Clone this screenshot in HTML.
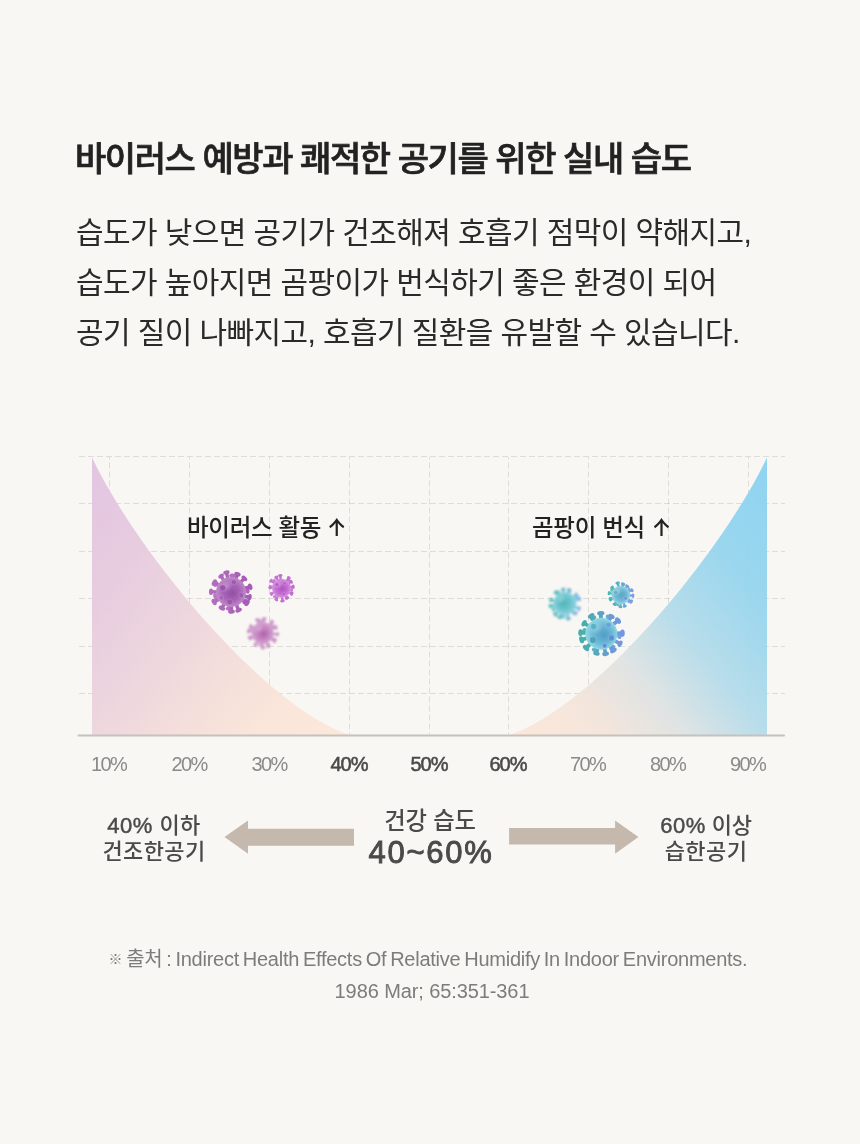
<!DOCTYPE html>
<html lang="ko">
<head>
<meta charset="utf-8">
<title>실내 습도</title>
<style>
html,body{margin:0;padding:0;}
body{width:860px;height:1144px;background:#f9f7f3;position:relative;overflow:hidden;
  font-family:"Liberation Sans","Noto Sans CJK KR",sans-serif;color:#222;}
.abs{position:absolute;white-space:nowrap;}
.kr{font-family:"Liberation Sans","Noto Sans CJK KR",sans-serif;}
#title{left:75px;top:135px;font-size:34px;font-weight:500;-webkit-text-stroke:0.7px #222;letter-spacing:-1.42px;line-height:48px;color:#222;}
#para{left:76px;top:208px;font-size:30px;font-weight:400;line-height:50px;letter-spacing:-0.6px;color:#2a2a2a;}
#chart{position:absolute;left:0;top:0;}
.cl{top:512px;font-size:23.5px;font-weight:500;line-height:32px;color:#222;letter-spacing:-0.3px;}
.ar{font-family:"Noto Sans CJK KR",sans-serif;position:absolute;top:3.7px;width:18px;height:20.3px;overflow:hidden;font-size:32.5px;line-height:32.5px;font-weight:400;letter-spacing:0;text-indent:-7.4px;text-align:left;}
.dg{-webkit-text-stroke:0.45px #4a4a4a;letter-spacing:0.5px;}
.ax{top:752px;width:80px;text-align:center;font-size:20px;line-height:24px;color:#8a8a8a;letter-spacing:-1.6px;}
.ax.b{font-weight:400;-webkit-text-stroke:0.55px #4a4a4a;color:#4a4a4a;letter-spacing:-1px;}
.side{width:160px;text-align:center;font-size:22px;line-height:26px;font-weight:500;color:#4a4a4a;letter-spacing:0.4px;top:812.6px;}
#mid1{left:350px;width:160px;text-align:center;top:806px;font-size:23.3px;line-height:30px;font-weight:500;color:#4a4a4a;letter-spacing:-0.1px;}
#mid2{left:331px;width:200px;text-align:center;top:834px;font-size:31px;line-height:38px;font-weight:400;-webkit-text-stroke:0.9px #4a4a4a;color:#4a4a4a;letter-spacing:1.7px;}
.nt{font-size:14px;font-weight:700;position:relative;top:-2px;font-family:"Liberation Sans","Noto Sans CJK KR",sans-serif;}
.ft{left:0;width:860px;text-align:center;font-size:20px;line-height:24px;color:#7c7c7c;letter-spacing:-0.9px;}
</style>
</head>
<body>
<div id="title" class="abs kr">바이러스 예방과 쾌적한 공기를 위한 실내 습도</div>
<div id="para" class="abs kr">습도가 낮으면 공기가 건조해져 호흡기 점막이 약해지고,<br>습도가 높아지면 곰팡이가 번식하기 좋은 환경이 되어<br>공기 질이 나빠지고, 호흡기 질환을 유발할 수 있습니다.</div>
<svg id="chart" width="860" height="1144" viewBox="0 0 860 1144">
  <defs>
    <linearGradient id="gl" gradientUnits="userSpaceOnUse" x1="349.6" y1="735" x2="59" y2="499.8">
      <stop offset="0" stop-color="#fde8d8"/>
      <stop offset="0.2" stop-color="#fae4d8"/>
      <stop offset="0.37" stop-color="#f4dcd9"/>
      <stop offset="0.535" stop-color="#edd4dc"/>
      <stop offset="0.75" stop-color="#e6c9de"/>
      <stop offset="1" stop-color="#e1c1df"/>
    </linearGradient>
    <linearGradient id="gr" gradientUnits="userSpaceOnUse" x1="509.6" y1="735" x2="800.2" y2="499.8">
      <stop offset="0" stop-color="#fde6d7"/>
      <stop offset="0.2" stop-color="#f4e4da"/>
      <stop offset="0.37" stop-color="#dde2e2"/>
      <stop offset="0.535" stop-color="#b3dbea"/>
      <stop offset="0.75" stop-color="#93d4ee"/>
      <stop offset="1" stop-color="#87d1f1"/>
    </linearGradient>
<radialGradient id="hl"><stop offset="0" stop-color="#fff" stop-opacity="0.28"/><stop offset="1" stop-color="#fff" stop-opacity="0"/></radialGradient>
<radialGradient id="bodyp1" cx="0.5" cy="0.5" r="0.5" fx="0.55" fy="0.55">
<stop offset="0" stop-color="#9550a6"/>
<stop offset="0.55" stop-color="#a763b6"/>
<stop offset="1" stop-color="#c08acb"/>
</radialGradient>
<radialGradient id="bodyp2" cx="0.5" cy="0.5" r="0.5" fx="0.55" fy="0.55">
<stop offset="0" stop-color="#b254c2"/>
<stop offset="0.6" stop-color="#c46ed2"/>
<stop offset="1" stop-color="#d595de"/>
</radialGradient>
<radialGradient id="bodyp3" cx="0.5" cy="0.5" r="0.5" fx="0.55" fy="0.55">
<stop offset="0" stop-color="#b062aa"/>
<stop offset="0.6" stop-color="#c688c2"/>
<stop offset="1" stop-color="#d3a5d1"/>
</radialGradient>
<filter id="blurp3" x="-30%" y="-30%" width="160%" height="160%"><feGaussianBlur stdDeviation="0.9"/></filter>
<radialGradient id="bodyt1" cx="0.5" cy="0.5" r="0.5" fx="0.4" fy="0.45">
<stop offset="0" stop-color="#4db4b6"/>
<stop offset="0.6" stop-color="#6cc4cd"/>
<stop offset="1" stop-color="#92d5e2"/>
</radialGradient>
<filter id="blurt1" x="-30%" y="-30%" width="160%" height="160%"><feGaussianBlur stdDeviation="0.9"/></filter>
<radialGradient id="bodyt2" cx="0.5" cy="0.5" r="0.5" fx="0.55" fy="0.5">
<stop offset="0" stop-color="#5aa4c6"/>
<stop offset="0.6" stop-color="#70bad6"/>
<stop offset="1" stop-color="#98d6e4"/>
</radialGradient>
<radialGradient id="bodyt3" cx="0.5" cy="0.5" r="0.55" fx="0.6" fy="0.55">
<stop offset="0" stop-color="#509ec6"/>
<stop offset="0.55" stop-color="#6cb8d6"/>
<stop offset="1" stop-color="#9ce0e6"/>
</radialGradient>
  </defs>
  <g stroke="#8a8680" stroke-opacity="0.23" stroke-width="1" stroke-dasharray="6 3" fill="none">
    <path d="M79 456.5H785M79 503.5H785M79 551.5H785M79 598.5H785M79 646.5H785M79 693.5H785"/>
    <path stroke-dashoffset="3.5" d="M109.5 457V734.5M189.5 457V734.5M269.5 457V734.5M349.5 457V734.5M429.5 457V734.5M508.5 457V734.5M588.5 457V734.5M668.5 457V734.5M748.5 457V734.5"/>
  </g>
  <path d="M92 457.6 C136.6 551.3 263.2 705.8 349.2 734.7 L349.2 735.5 L92 735.5Z" fill="url(#gl)" fill-opacity="0.93"/>
  <path d="M767 457.6 C722.6 551.3 596 705.8 510 734.7 L510 735.5 L767 735.5Z" fill="url(#gr)" fill-opacity="0.93"/>
<g>
<g transform="translate(231 592) rotate(34.0)" fill="#ae6abb"><rect x="12.0" y="-1.64" width="4.8" height="3.28"/><ellipse cx="16.8" cy="0" rx="1.97" ry="3.11"/></g>
<g transform="translate(231 592) rotate(97.7)" fill="#b471c0"><rect x="12.0" y="-1.64" width="4.9" height="3.28"/><ellipse cx="16.9" cy="0" rx="1.97" ry="3.11"/></g>
<g transform="translate(231 592) rotate(165.1)" fill="#b878c5"><rect x="12.0" y="-1.64" width="4.3" height="3.28"/><ellipse cx="16.3" cy="0" rx="1.97" ry="3.11"/></g>
<g transform="translate(231 592) rotate(207.5)" fill="#b777c4"><rect x="12.0" y="-1.64" width="5.2" height="3.28"/><ellipse cx="17.2" cy="0" rx="1.97" ry="3.11"/></g>
<g transform="translate(231 592) rotate(274.6)" fill="#b36fc0"><rect x="12.0" y="-1.64" width="4.5" height="3.28"/><ellipse cx="16.5" cy="0" rx="1.97" ry="3.11"/></g>
<g transform="translate(231 592) rotate(355.7)" fill="#ad69ba"><rect x="12.0" y="-1.64" width="4.7" height="3.28"/><ellipse cx="16.7" cy="0" rx="1.97" ry="3.11"/></g>
<g transform="translate(231 592) rotate(16.1)" fill="#a65cb4"><rect x="12.0" y="-1.76" width="7.2" height="3.53"/><ellipse cx="19.2" cy="0" rx="2.12" ry="3.35"/></g>
<g transform="translate(231 592) rotate(34.3)" fill="#a75db5"><rect x="12.0" y="-1.83" width="7.4" height="3.65"/><ellipse cx="19.4" cy="0" rx="2.19" ry="3.47"/></g>
<g transform="translate(231 592) rotate(67.2)" fill="#aa61b8"><rect x="12.0" y="-1.77" width="7.7" height="3.54"/><ellipse cx="19.7" cy="0" rx="2.13" ry="3.37"/></g>
<g transform="translate(231 592) rotate(88.5)" fill="#ac64ba"><rect x="12.0" y="-1.75" width="7.7" height="3.50"/><ellipse cx="19.7" cy="0" rx="2.10" ry="3.33"/></g>
<g transform="translate(231 592) rotate(119.5)" fill="#af68bd"><rect x="12.0" y="-1.83" width="6.5" height="3.65"/><ellipse cx="18.5" cy="0" rx="2.19" ry="3.47"/></g>
<g transform="translate(231 592) rotate(149.5)" fill="#b16bbf"><rect x="12.0" y="-1.83" width="7.6" height="3.66"/><ellipse cx="19.6" cy="0" rx="2.20" ry="3.48"/></g>
<g transform="translate(231 592) rotate(180.6)" fill="#b26cc0"><rect x="12.0" y="-1.70" width="8.0" height="3.39"/><ellipse cx="20.0" cy="0" rx="2.04" ry="3.22"/></g>
<g transform="translate(231 592) rotate(209.4)" fill="#b16bbf"><rect x="12.0" y="-1.85" width="7.1" height="3.69"/><ellipse cx="19.1" cy="0" rx="2.21" ry="3.51"/></g>
<g transform="translate(231 592) rotate(238.2)" fill="#af68bd"><rect x="12.0" y="-1.62" width="6.8" height="3.25"/><ellipse cx="18.8" cy="0" rx="1.95" ry="3.09"/></g>
<g transform="translate(231 592) rotate(256.8)" fill="#ad66bb"><rect x="12.0" y="-1.71" width="8.1" height="3.41"/><ellipse cx="20.1" cy="0" rx="2.05" ry="3.24"/></g>
<g transform="translate(231 592) rotate(290.1)" fill="#aa61b8"><rect x="12.0" y="-1.73" width="7.0" height="3.45"/><ellipse cx="19.0" cy="0" rx="2.07" ry="3.28"/></g>
<g transform="translate(231 592) rotate(314.5)" fill="#a85eb6"><rect x="12.0" y="-1.75" width="7.1" height="3.50"/><ellipse cx="19.1" cy="0" rx="2.10" ry="3.32"/></g>
<g transform="translate(231 592) rotate(344.9)" fill="#a65cb4"><rect x="12.0" y="-1.78" width="7.9" height="3.55"/><ellipse cx="19.9" cy="0" rx="2.13" ry="3.37"/></g>
<circle cx="231" cy="592" r="15" fill="url(#bodyp1)"/>
<ellipse cx="226.2" cy="586.3" rx="7.5" ry="5.7" fill="url(#hl)" transform="rotate(-35 226.2 586.3)"/>
<circle cx="222.7" cy="587.9" r="3.0" fill="#9a55aa" stroke="#ffffff" stroke-opacity="0.18" stroke-width="0.8"/>
<circle cx="233.9" cy="582.2" r="2.6" fill="#9f5cae" stroke="#ffffff" stroke-opacity="0.18" stroke-width="0.8"/>
<circle cx="229.7" cy="601.8" r="2.9" fill="#9d58ac" stroke="#ffffff" stroke-opacity="0.18" stroke-width="0.8"/>
<circle cx="241.0" cy="595.1" r="2.6" fill="#a05cb0" stroke="#ffffff" stroke-opacity="0.18" stroke-width="0.8"/>
<circle cx="221.4" cy="597.8" r="2.2" fill="#a463b3" stroke="#ffffff" stroke-opacity="0.18" stroke-width="0.8"/>
</g>
<g>
<g transform="translate(281.5 588.2) rotate(62.2)" fill="#c979d5"><rect x="7.6" y="-1.09" width="3.3" height="2.18"/><ellipse cx="10.9" cy="0" rx="1.31" ry="2.08"/></g>
<g transform="translate(281.5 588.2) rotate(127.1)" fill="#cb7dd7"><rect x="7.6" y="-1.09" width="3.5" height="2.18"/><ellipse cx="11.1" cy="0" rx="1.31" ry="2.08"/></g>
<g transform="translate(281.5 588.2) rotate(185.5)" fill="#cc7fd7"><rect x="7.6" y="-1.09" width="3.4" height="2.18"/><ellipse cx="11.0" cy="0" rx="1.31" ry="2.08"/></g>
<g transform="translate(281.5 588.2) rotate(225.2)" fill="#cb7ed7"><rect x="7.6" y="-1.09" width="3.1" height="2.18"/><ellipse cx="10.7" cy="0" rx="1.31" ry="2.08"/></g>
<g transform="translate(281.5 588.2) rotate(311.3)" fill="#c878d5"><rect x="7.6" y="-1.09" width="3.2" height="2.18"/><ellipse cx="10.8" cy="0" rx="1.31" ry="2.08"/></g>
<g transform="translate(281.5 588.2) rotate(370.1)" fill="#c776d4"><rect x="7.6" y="-1.09" width="2.8" height="2.18"/><ellipse cx="10.4" cy="0" rx="1.31" ry="2.08"/></g>
<g transform="translate(281.5 588.2) rotate(28.2)" fill="#c26bd0"><rect x="7.6" y="-1.16" width="4.2" height="2.32"/><ellipse cx="11.8" cy="0" rx="1.39" ry="2.20"/></g>
<g transform="translate(281.5 588.2) rotate(59.7)" fill="#c36cd1"><rect x="7.6" y="-1.10" width="3.9" height="2.20"/><ellipse cx="11.5" cy="0" rx="1.32" ry="2.09"/></g>
<g transform="translate(281.5 588.2) rotate(85.6)" fill="#c56fd2"><rect x="7.6" y="-1.20" width="5.2" height="2.40"/><ellipse cx="12.8" cy="0" rx="1.44" ry="2.28"/></g>
<g transform="translate(281.5 588.2) rotate(114.0)" fill="#c671d3"><rect x="7.6" y="-1.08" width="5.2" height="2.17"/><ellipse cx="12.8" cy="0" rx="1.30" ry="2.06"/></g>
<g transform="translate(281.5 588.2) rotate(150.3)" fill="#c873d4"><rect x="7.6" y="-1.06" width="4.1" height="2.12"/><ellipse cx="11.7" cy="0" rx="1.27" ry="2.01"/></g>
<g transform="translate(281.5 588.2) rotate(183.8)" fill="#c874d4"><rect x="7.6" y="-1.10" width="4.2" height="2.20"/><ellipse cx="11.8" cy="0" rx="1.32" ry="2.09"/></g>
<g transform="translate(281.5 588.2) rotate(215.3)" fill="#c773d4"><rect x="7.6" y="-1.11" width="5.3" height="2.22"/><ellipse cx="12.9" cy="0" rx="1.33" ry="2.11"/></g>
<g transform="translate(281.5 588.2) rotate(245.0)" fill="#c671d3"><rect x="7.6" y="-1.18" width="4.6" height="2.37"/><ellipse cx="12.2" cy="0" rx="1.42" ry="2.25"/></g>
<g transform="translate(281.5 588.2) rotate(264.6)" fill="#c56fd2"><rect x="7.6" y="-1.19" width="5.3" height="2.37"/><ellipse cx="12.9" cy="0" rx="1.42" ry="2.25"/></g>
<g transform="translate(281.5 588.2) rotate(305.1)" fill="#c36cd1"><rect x="7.6" y="-1.11" width="5.3" height="2.23"/><ellipse cx="12.9" cy="0" rx="1.34" ry="2.11"/></g>
<g transform="translate(281.5 588.2) rotate(326.7)" fill="#c26bd0"><rect x="7.6" y="-1.08" width="4.2" height="2.17"/><ellipse cx="11.8" cy="0" rx="1.30" ry="2.06"/></g>
<g transform="translate(281.5 588.2) rotate(352.7)" fill="#c26ad0"><rect x="7.6" y="-1.17" width="4.3" height="2.34"/><ellipse cx="11.9" cy="0" rx="1.40" ry="2.22"/></g>
<circle cx="281.5" cy="588.2" r="9.5" fill="url(#bodyp2)"/>
<ellipse cx="278.5" cy="584.6" rx="4.8" ry="3.6" fill="url(#hl)" transform="rotate(-35 278.5 584.6)"/>
<circle cx="277.0" cy="584.7" r="1.9" fill="#b85cc8" stroke="#ffffff" stroke-opacity="0.18" stroke-width="0.8"/>
<circle cx="284.7" cy="583.5" r="1.7" fill="#bb60ca" stroke="#ffffff" stroke-opacity="0.18" stroke-width="0.8"/>
<circle cx="283.7" cy="594.0" r="1.7" fill="#bb60ca" stroke="#ffffff" stroke-opacity="0.18" stroke-width="0.8"/>
</g>
<g filter="url(#blurp3)">
<g transform="translate(262.6 633) rotate(30.7)" fill="#d09dce"><rect x="8.8" y="-1.20" width="3.4" height="2.40"/><ellipse cx="12.2" cy="0" rx="1.44" ry="2.28"/></g>
<g transform="translate(262.6 633) rotate(100.1)" fill="#d09dce"><rect x="8.8" y="-1.20" width="3.3" height="2.40"/><ellipse cx="12.1" cy="0" rx="1.44" ry="2.28"/></g>
<g transform="translate(262.6 633) rotate(156.8)" fill="#d09dce"><rect x="8.8" y="-1.20" width="3.6" height="2.40"/><ellipse cx="12.4" cy="0" rx="1.44" ry="2.28"/></g>
<g transform="translate(262.6 633) rotate(203.1)" fill="#d09dce"><rect x="8.8" y="-1.20" width="3.8" height="2.40"/><ellipse cx="12.6" cy="0" rx="1.44" ry="2.28"/></g>
<g transform="translate(262.6 633) rotate(262.5)" fill="#d09dce"><rect x="8.8" y="-1.20" width="3.7" height="2.40"/><ellipse cx="12.5" cy="0" rx="1.44" ry="2.28"/></g>
<g transform="translate(262.6 633) rotate(323.4)" fill="#d09dce"><rect x="8.8" y="-1.20" width="3.4" height="2.40"/><ellipse cx="12.2" cy="0" rx="1.44" ry="2.28"/></g>
<g transform="translate(262.6 633) rotate(4.7)" fill="#cc95ca"><rect x="8.8" y="-1.19" width="6.3" height="2.38"/><ellipse cx="15.1" cy="0" rx="1.43" ry="2.26"/></g>
<g transform="translate(262.6 633) rotate(31.9)" fill="#cc95ca"><rect x="8.8" y="-1.36" width="5.8" height="2.71"/><ellipse cx="14.6" cy="0" rx="1.63" ry="2.58"/></g>
<g transform="translate(262.6 633) rotate(66.8)" fill="#cc95ca"><rect x="8.8" y="-1.36" width="5.4" height="2.72"/><ellipse cx="14.2" cy="0" rx="1.63" ry="2.59"/></g>
<g transform="translate(262.6 633) rotate(89.5)" fill="#cc95ca"><rect x="8.8" y="-1.22" width="6.3" height="2.44"/><ellipse cx="15.1" cy="0" rx="1.47" ry="2.32"/></g>
<g transform="translate(262.6 633) rotate(120.8)" fill="#cc95ca"><rect x="8.8" y="-1.23" width="5.1" height="2.45"/><ellipse cx="13.9" cy="0" rx="1.47" ry="2.33"/></g>
<g transform="translate(262.6 633) rotate(160.1)" fill="#cc95ca"><rect x="8.8" y="-1.28" width="5.2" height="2.56"/><ellipse cx="14.0" cy="0" rx="1.54" ry="2.43"/></g>
<g transform="translate(262.6 633) rotate(187.6)" fill="#cc95ca"><rect x="8.8" y="-1.27" width="5.5" height="2.55"/><ellipse cx="14.3" cy="0" rx="1.53" ry="2.42"/></g>
<g transform="translate(262.6 633) rotate(209.7)" fill="#cc95ca"><rect x="8.8" y="-1.21" width="5.0" height="2.41"/><ellipse cx="13.8" cy="0" rx="1.45" ry="2.29"/></g>
<g transform="translate(262.6 633) rotate(248.2)" fill="#cc95ca"><rect x="8.8" y="-1.23" width="5.6" height="2.45"/><ellipse cx="14.4" cy="0" rx="1.47" ry="2.33"/></g>
<g transform="translate(262.6 633) rotate(276.9)" fill="#cc95ca"><rect x="8.8" y="-1.22" width="5.7" height="2.45"/><ellipse cx="14.5" cy="0" rx="1.47" ry="2.33"/></g>
<g transform="translate(262.6 633) rotate(309.8)" fill="#cc95ca"><rect x="8.8" y="-1.21" width="6.1" height="2.43"/><ellipse cx="14.9" cy="0" rx="1.46" ry="2.31"/></g>
<g transform="translate(262.6 633) rotate(336.8)" fill="#cc95ca"><rect x="8.8" y="-1.34" width="5.6" height="2.68"/><ellipse cx="14.4" cy="0" rx="1.61" ry="2.55"/></g>
<circle cx="262.6" cy="633" r="11" fill="url(#bodyp3)"/>
<ellipse cx="259.1" cy="628.8" rx="5.5" ry="4.2" fill="url(#hl)" transform="rotate(-35 259.1 628.8)"/>
</g>
<g filter="url(#blurt1)">
<g transform="translate(565 603.5) rotate(46.1)" fill="#8dc1e2"><rect x="9.2" y="-1.26" width="3.8" height="2.51"/><ellipse cx="13.0" cy="0" rx="1.51" ry="2.39"/></g>
<g transform="translate(565 603.5) rotate(96.8)" fill="#7bc3d3"><rect x="9.2" y="-1.26" width="4.3" height="2.51"/><ellipse cx="13.5" cy="0" rx="1.51" ry="2.39"/></g>
<g transform="translate(565 603.5) rotate(153.0)" fill="#6bc5c3"><rect x="9.2" y="-1.26" width="3.9" height="2.51"/><ellipse cx="13.1" cy="0" rx="1.51" ry="2.39"/></g>
<g transform="translate(565 603.5) rotate(238.6)" fill="#73c4cb"><rect x="9.2" y="-1.26" width="3.5" height="2.51"/><ellipse cx="12.7" cy="0" rx="1.51" ry="2.39"/></g>
<g transform="translate(565 603.5) rotate(288.7)" fill="#85c2db"><rect x="9.2" y="-1.26" width="4.0" height="2.51"/><ellipse cx="13.2" cy="0" rx="1.51" ry="2.39"/></g>
<g transform="translate(565 603.5) rotate(334.0)" fill="#92c0e6"><rect x="9.2" y="-1.26" width="3.8" height="2.51"/><ellipse cx="13.0" cy="0" rx="1.51" ry="2.39"/></g>
<g transform="translate(565 603.5) rotate(20.0)" fill="#89bbe5"><rect x="9.2" y="-1.37" width="5.8" height="2.74"/><ellipse cx="15.0" cy="0" rx="1.64" ry="2.60"/></g>
<g transform="translate(565 603.5) rotate(42.5)" fill="#84bce0"><rect x="9.2" y="-1.24" width="5.6" height="2.48"/><ellipse cx="14.8" cy="0" rx="1.49" ry="2.36"/></g>
<g transform="translate(565 603.5) rotate(77.3)" fill="#78bdd6"><rect x="9.2" y="-1.34" width="6.6" height="2.68"/><ellipse cx="15.8" cy="0" rx="1.61" ry="2.55"/></g>
<g transform="translate(565 603.5) rotate(111.0)" fill="#6bbec9"><rect x="9.2" y="-1.37" width="5.7" height="2.75"/><ellipse cx="14.9" cy="0" rx="1.65" ry="2.61"/></g>
<g transform="translate(565 603.5) rotate(131.7)" fill="#64bfc3"><rect x="9.2" y="-1.36" width="5.5" height="2.72"/><ellipse cx="14.7" cy="0" rx="1.63" ry="2.58"/></g>
<g transform="translate(565 603.5) rotate(170.3)" fill="#5cc0bc"><rect x="9.2" y="-1.24" width="5.9" height="2.47"/><ellipse cx="15.1" cy="0" rx="1.48" ry="2.35"/></g>
<g transform="translate(565 603.5) rotate(194.0)" fill="#5dc0bd"><rect x="9.2" y="-1.28" width="5.5" height="2.55"/><ellipse cx="14.7" cy="0" rx="1.53" ry="2.42"/></g>
<g transform="translate(565 603.5) rotate(231.4)" fill="#65bfc4"><rect x="9.2" y="-1.40" width="5.3" height="2.81"/><ellipse cx="14.5" cy="0" rx="1.69" ry="2.67"/></g>
<g transform="translate(565 603.5) rotate(262.4)" fill="#70bece"><rect x="9.2" y="-1.30" width="5.2" height="2.59"/><ellipse cx="14.4" cy="0" rx="1.56" ry="2.46"/></g>
<g transform="translate(565 603.5) rotate(287.1)" fill="#7abdd7"><rect x="9.2" y="-1.31" width="5.2" height="2.61"/><ellipse cx="14.4" cy="0" rx="1.57" ry="2.48"/></g>
<g transform="translate(565 603.5) rotate(322.8)" fill="#85bce2"><rect x="9.2" y="-1.34" width="5.3" height="2.69"/><ellipse cx="14.5" cy="0" rx="1.61" ry="2.55"/></g>
<g transform="translate(565 603.5) rotate(342.0)" fill="#89bbe5"><rect x="9.2" y="-1.41" width="5.9" height="2.81"/><ellipse cx="15.1" cy="0" rx="1.69" ry="2.67"/></g>
<circle cx="565" cy="603.5" r="11.5" fill="url(#bodyt1)"/>
<ellipse cx="561.3" cy="599.1" rx="5.8" ry="4.4" fill="url(#hl)" transform="rotate(-35 561.3 599.1)"/>
</g>
<g>
<g transform="translate(620.8 595) rotate(37.2)" fill="#7ea9e2"><rect x="7.4" y="-1.09" width="2.9" height="2.18"/><ellipse cx="10.4" cy="0" rx="1.31" ry="2.08"/></g>
<g transform="translate(620.8 595) rotate(110.7)" fill="#66b6c8"><rect x="7.4" y="-1.09" width="2.9" height="2.18"/><ellipse cx="10.3" cy="0" rx="1.31" ry="2.08"/></g>
<g transform="translate(620.8 595) rotate(158.8)" fill="#5abdbc"><rect x="7.4" y="-1.09" width="3.0" height="2.18"/><ellipse cx="10.4" cy="0" rx="1.31" ry="2.08"/></g>
<g transform="translate(620.8 595) rotate(209.6)" fill="#5bbcbd"><rect x="7.4" y="-1.09" width="2.9" height="2.18"/><ellipse cx="10.4" cy="0" rx="1.31" ry="2.08"/></g>
<g transform="translate(620.8 595) rotate(282.3)" fill="#72b0d5"><rect x="7.4" y="-1.09" width="3.1" height="2.18"/><ellipse cx="10.6" cy="0" rx="1.31" ry="2.08"/></g>
<g transform="translate(620.8 595) rotate(327.0)" fill="#7fa9e2"><rect x="7.4" y="-1.09" width="2.8" height="2.18"/><ellipse cx="10.2" cy="0" rx="1.31" ry="2.08"/></g>
<g transform="translate(620.8 595) rotate(3.0)" fill="#789fe4"><rect x="7.4" y="-1.19" width="4.7" height="2.37"/><ellipse cx="12.2" cy="0" rx="1.42" ry="2.25"/></g>
<g transform="translate(620.8 595) rotate(32.3)" fill="#74a1e0"><rect x="7.4" y="-1.24" width="4.9" height="2.47"/><ellipse cx="12.4" cy="0" rx="1.48" ry="2.35"/></g>
<g transform="translate(620.8 595) rotate(70.7)" fill="#69a7d4"><rect x="7.4" y="-1.09" width="4.5" height="2.17"/><ellipse cx="12.0" cy="0" rx="1.30" ry="2.07"/></g>
<g transform="translate(620.8 595) rotate(91.9)" fill="#60accb"><rect x="7.4" y="-1.07" width="4.4" height="2.14"/><ellipse cx="11.9" cy="0" rx="1.28" ry="2.03"/></g>
<g transform="translate(620.8 595) rotate(124.3)" fill="#54b3be"><rect x="7.4" y="-1.06" width="4.0" height="2.13"/><ellipse cx="11.4" cy="0" rx="1.28" ry="2.02"/></g>
<g transform="translate(620.8 595) rotate(158.1)" fill="#4cb7b6"><rect x="7.4" y="-1.21" width="4.1" height="2.43"/><ellipse cx="11.5" cy="0" rx="1.46" ry="2.30"/></g>
<g transform="translate(620.8 595) rotate(188.9)" fill="#4ab8b4"><rect x="7.4" y="-1.15" width="4.5" height="2.30"/><ellipse cx="11.9" cy="0" rx="1.38" ry="2.18"/></g>
<g transform="translate(620.8 595) rotate(220.8)" fill="#50b5ba"><rect x="7.4" y="-1.11" width="4.3" height="2.22"/><ellipse cx="11.7" cy="0" rx="1.33" ry="2.11"/></g>
<g transform="translate(620.8 595) rotate(255.4)" fill="#5bafc6"><rect x="7.4" y="-1.21" width="5.0" height="2.43"/><ellipse cx="12.4" cy="0" rx="1.46" ry="2.30"/></g>
<g transform="translate(620.8 595) rotate(281.5)" fill="#66a9d1"><rect x="7.4" y="-1.10" width="4.0" height="2.20"/><ellipse cx="11.5" cy="0" rx="1.32" ry="2.09"/></g>
<g transform="translate(620.8 595) rotate(305.7)" fill="#6ea4da"><rect x="7.4" y="-1.20" width="3.5" height="2.40"/><ellipse cx="11.0" cy="0" rx="1.44" ry="2.28"/></g>
<g transform="translate(620.8 595) rotate(337.2)" fill="#76a0e2"><rect x="7.4" y="-1.13" width="4.9" height="2.26"/><ellipse cx="12.3" cy="0" rx="1.35" ry="2.15"/></g>
<circle cx="620.8" cy="595" r="9.3" fill="url(#bodyt2)"/>
<ellipse cx="617.8" cy="591.5" rx="4.7" ry="3.5" fill="url(#hl)" transform="rotate(-35 617.8 591.5)"/>
<circle cx="615.8" cy="592.5" r="1.9" fill="#5fb0c8" stroke="#ffffff" stroke-opacity="0.18" stroke-width="0.8"/>
<circle cx="625.6" cy="598.3" r="1.7" fill="#6398d6" stroke="#ffffff" stroke-opacity="0.18" stroke-width="0.8"/>
</g>
<g>
<g transform="translate(601.4 633.7) rotate(-65.8)" fill="#71a6d6"><rect x="12.8" y="-1.75" width="5.4" height="3.50"/><ellipse cx="18.2" cy="0" rx="2.10" ry="3.32"/></g>
<g transform="translate(601.4 633.7) rotate(6.4)" fill="#7d9ee4"><rect x="12.8" y="-1.75" width="5.6" height="3.50"/><ellipse cx="18.4" cy="0" rx="2.10" ry="3.32"/></g>
<g transform="translate(601.4 633.7) rotate(52.1)" fill="#75a3db"><rect x="12.8" y="-1.75" width="4.8" height="3.50"/><ellipse cx="17.6" cy="0" rx="2.10" ry="3.32"/></g>
<g transform="translate(601.4 633.7) rotate(111.0)" fill="#61afc2"><rect x="12.8" y="-1.75" width="4.8" height="3.50"/><ellipse cx="17.6" cy="0" rx="2.10" ry="3.32"/></g>
<g transform="translate(601.4 633.7) rotate(187.9)" fill="#54b6b3"><rect x="12.8" y="-1.75" width="4.6" height="3.50"/><ellipse cx="17.4" cy="0" rx="2.10" ry="3.32"/></g>
<g transform="translate(601.4 633.7) rotate(242.0)" fill="#5fb0c0"><rect x="12.8" y="-1.75" width="4.8" height="3.50"/><ellipse cx="17.6" cy="0" rx="2.10" ry="3.32"/></g>
<g transform="translate(601.4 633.7) rotate(-91.7)" fill="#5ba3c6"><rect x="12.8" y="-1.94" width="7.7" height="3.88"/><ellipse cx="20.5" cy="0" rx="2.33" ry="3.68"/></g>
<g transform="translate(601.4 633.7) rotate(-59.7)" fill="#679cd5"><rect x="12.8" y="-1.77" width="7.2" height="3.55"/><ellipse cx="20.0" cy="0" rx="2.13" ry="3.37"/></g>
<g transform="translate(601.4 633.7) rotate(-38.3)" fill="#6d99dc"><rect x="12.8" y="-1.93" width="8.4" height="3.86"/><ellipse cx="21.2" cy="0" rx="2.32" ry="3.67"/></g>
<g transform="translate(601.4 633.7) rotate(-1.6)" fill="#7296e2"><rect x="12.8" y="-1.91" width="8.3" height="3.82"/><ellipse cx="21.1" cy="0" rx="2.29" ry="3.63"/></g>
<g transform="translate(601.4 633.7) rotate(28.1)" fill="#6f98df"><rect x="12.8" y="-1.77" width="8.4" height="3.54"/><ellipse cx="21.2" cy="0" rx="2.12" ry="3.36"/></g>
<g transform="translate(601.4 633.7) rotate(54.4)" fill="#699bd7"><rect x="12.8" y="-1.92" width="7.8" height="3.83"/><ellipse cx="20.6" cy="0" rx="2.30" ry="3.64"/></g>
<g transform="translate(601.4 633.7) rotate(78.2)" fill="#60a0cd"><rect x="12.8" y="-1.80" width="7.8" height="3.60"/><ellipse cx="20.6" cy="0" rx="2.16" ry="3.42"/></g>
<g transform="translate(601.4 633.7) rotate(104.0)" fill="#56a6c0"><rect x="12.8" y="-1.73" width="7.7" height="3.45"/><ellipse cx="20.5" cy="0" rx="2.07" ry="3.28"/></g>
<g transform="translate(601.4 633.7) rotate(137.1)" fill="#4badb3"><rect x="12.8" y="-1.98" width="8.2" height="3.97"/><ellipse cx="21.0" cy="0" rx="2.38" ry="3.77"/></g>
<g transform="translate(601.4 633.7) rotate(163.0)" fill="#46afad"><rect x="12.8" y="-1.91" width="7.9" height="3.83"/><ellipse cx="20.7" cy="0" rx="2.30" ry="3.63"/></g>
<g transform="translate(601.4 633.7) rotate(183.0)" fill="#45b0ac"><rect x="12.8" y="-1.82" width="8.2" height="3.65"/><ellipse cx="21.0" cy="0" rx="2.19" ry="3.46"/></g>
<g transform="translate(601.4 633.7) rotate(211.3)" fill="#48aeb0"><rect x="12.8" y="-1.85" width="7.4" height="3.69"/><ellipse cx="20.2" cy="0" rx="2.22" ry="3.51"/></g>
<g transform="translate(601.4 633.7) rotate(240.1)" fill="#50a9ba"><rect x="12.8" y="-1.87" width="7.8" height="3.74"/><ellipse cx="20.6" cy="0" rx="2.25" ry="3.56"/></g>
<circle cx="601.4" cy="633.7" r="16" fill="url(#bodyt3)"/>
<ellipse cx="596.3" cy="627.6" rx="8.0" ry="6.1" fill="url(#hl)" transform="rotate(-35 596.3 627.6)"/>
<circle cx="593.7" cy="626.4" r="3.0" fill="#56b4c4" stroke="#ffffff" stroke-opacity="0.18" stroke-width="0.8"/>
<circle cx="592.9" cy="640.0" r="3.2" fill="#4aa4bc" stroke="#ffffff" stroke-opacity="0.18" stroke-width="0.8"/>
<circle cx="611.4" cy="637.9" r="2.9" fill="#5d8fd6" stroke="#ffffff" stroke-opacity="0.18" stroke-width="0.8"/>
<circle cx="608.5" cy="625.0" r="2.7" fill="#64a6da" stroke="#ffffff" stroke-opacity="0.18" stroke-width="0.8"/>
<circle cx="604.7" cy="645.7" r="2.2" fill="#5b8edc" stroke="#ffffff" stroke-opacity="0.18" stroke-width="0.8"/>
</g>
  <path d="M78.5 735.5H784" stroke="#c3c2c0" stroke-width="2" stroke-linecap="round" fill="none"/>
  <path d="M224.5 837 L248 820.4 L248 828.8 L354 828.8 L354 845.8 L248 845.8 L248 853.7Z" fill="#c5b8ad"/>
  <path d="M638.4 837 L615.1 820.4 L615.1 828 L509.1 828 L509.1 844.6 L615.1 844.6 L615.1 853.7Z" fill="#c5b8ad"/>
</svg>
<div class="abs kr cl" style="left:187px;">바이러스 활동 <span class="ar" style="left:141px">↑</span></div>
<div class="abs kr cl" style="left:532px;">곰팡이 번식 <span class="ar" style="left:120.7px">↑</span></div>
<div class="abs ax" style="left:68.5px;">10%</div>
<div class="abs ax" style="left:149px;">20%</div>
<div class="abs ax" style="left:229px;">30%</div>
<div class="abs ax b" style="left:309px;">40%</div>
<div class="abs ax b" style="left:389px;">50%</div>
<div class="abs ax b" style="left:468px;">60%</div>
<div class="abs ax" style="left:547.5px;">70%</div>
<div class="abs ax" style="left:627.5px;">80%</div>
<div class="abs ax" style="left:707.5px;">90%</div>
<div class="abs kr side" style="left:74px;"><span class="dg">40%</span> 이하<br>건조한공기</div>
<div class="abs kr side" style="left:626px;"><span style="letter-spacing:-0.2px"><span class="dg">60%</span> 이상</span><br>습한공기</div>
<div id="mid1" class="abs kr">건강 습도</div>
<div id="mid2" class="abs">40~60%</div>
<div class="abs ft" style="top:947px;left:-2px;letter-spacing:-0.25px;word-spacing:-1.5px;"><span class="nt">※</span> <span class="kr">출처</span> : Indirect Health Effects Of Relative Humidify In Indoor Environments.</div>
<div class="abs ft" style="top:979px;left:2px;letter-spacing:-0.1px;">1986 Mar; 65:351-361</div>
</body>
</html>
